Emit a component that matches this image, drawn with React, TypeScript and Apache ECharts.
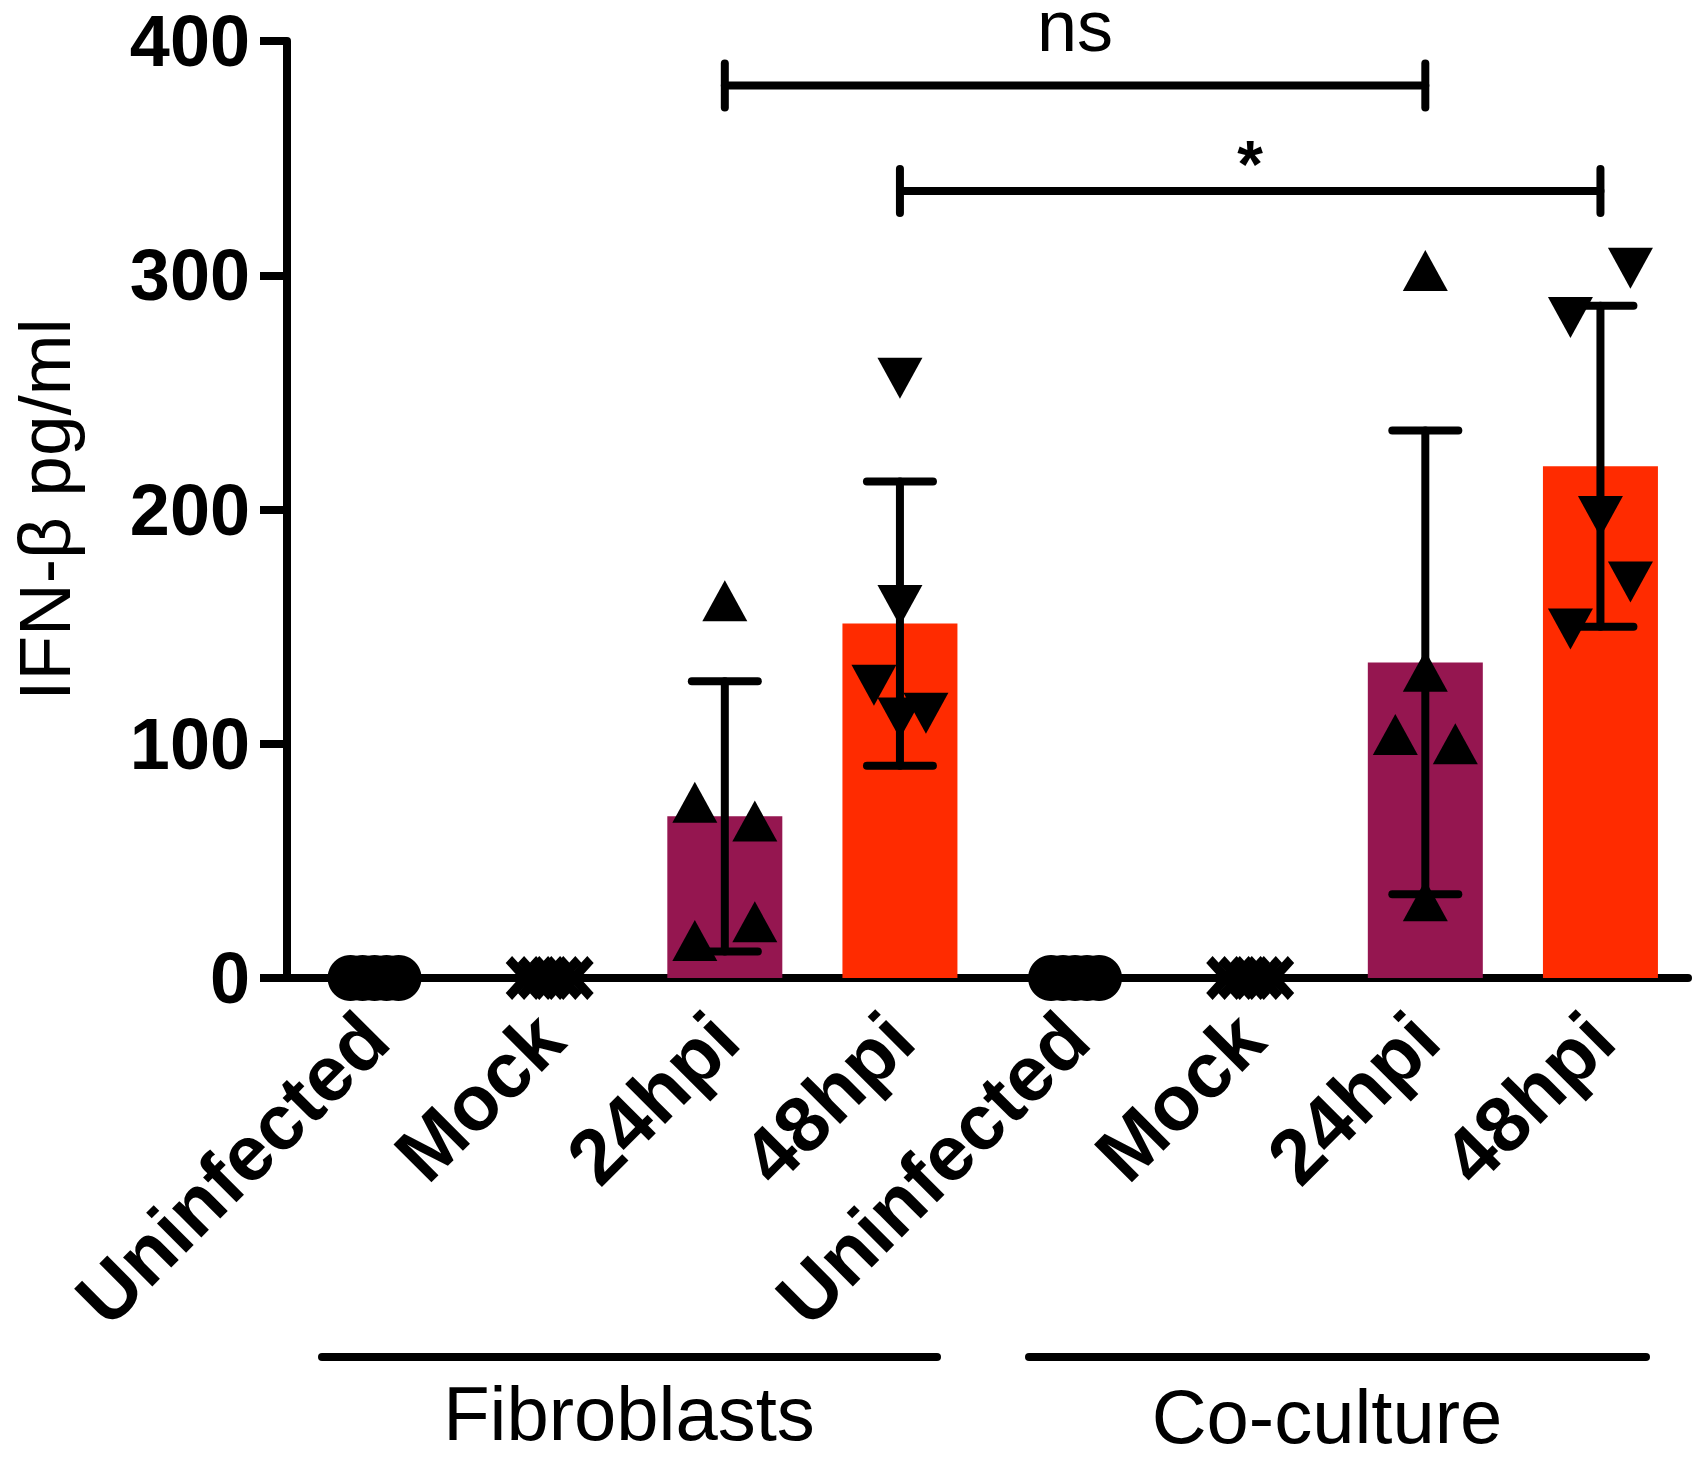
import React, { useEffect, useRef } from 'react';
import * as echarts from 'echarts';

// ---------- data ----------
const categories = ['Uninfected', 'Mock', '24hpi', '48hpi', 'Uninfected', 'Mock', '24hpi', '48hpi'];
const yTicks = { min: 0, max: 400, interval: 100 };
const groupLabels = ['Fibroblasts', 'Co-culture'];

const barMeans = [0, 0, 69, 151.3, 0, 0, 134.7, 218.5];
const barSD = [0, 0, 57.7, 60.7, 0, 0, 99, 68.5];

const uninfectedCats = [0, 4];
const uninfectedValues = [0, 0, 0, 0, 0];
const mockCats = [1, 5];
const mockValues = [0, 0, 0, 0, 0];
const fib24Values = [161, 75, 67, 24, 16];
const fib48Values = [256, 159, 125, 111, 113];
const co24Values = [302, 131, 104, 100, 33];
const co48Values = [303, 282, 197, 169, 149];

const sigPairs = [[2, 6], [3, 7]];
const sigLevels = [381, 336];
const sigLabels = ['ns', '*'];

// ---------- layout / style ----------
const FONT = "'Liberation Sans', Arial, Helvetica, sans-serif";
const LW = 8;
const zeroJitter = [-24, -12, 0, 12, 24];
const fib24Jitter = [0, -30, 30, 30, -30];
const fib48Jitter = [0, 0, -26, 0, 26];
const co24Jitter = [0, 0, -30, 30, 0];
const co48Jitter = [30, -30, 0, 30, -30];
const barColors = ['#000', '#000', '#951650', '#FF2B00', '#000', '#000', '#951650', '#FF2B00'];
const sigTextOffset = [-60, -27];
const sigTextStyle = [
  { fontSize: 72, fontWeight: 'normal' },
  { fontSize: 66, fontWeight: 'bold' },
];

const CROSS =
  'path://M0,1.6 L1.6,0 L5,3.4 L8.4,0 L10,1.6 L6.6,5 L10,8.4 L8.4,10 L5,6.6 L1.6,10 L0,8.4 L3.4,5 Z';

function pts(cat: number, values: number[], jitter: number[]) {
  return values.map((v, i) => ({ value: [cat, v], symbolOffset: [jitter[i], 0] }));
}

export default function App() {
  const ref = useRef<HTMLDivElement>(null);

  useEffect(() => {
    if (!ref.current) return;
    const chart = echarts.init(ref.current, undefined, { renderer: 'svg' });

    const lineStyle = { stroke: '#000', lineWidth: LW, lineCap: 'round' };
    const markStyle = { color: '#000', opacity: 1 };

    const option: any = {
      animation: false,
      backgroundColor: '#fff',
      grid: { left: 285, top: 41, width: 1403, height: 937, containLabel: false },
      xAxis: {
        type: 'category',
        data: categories,
        axisLine: { show: true, lineStyle: { color: '#000', width: LW } },
        axisTick: { show: false },
        axisLabel: {
          interval: 0,
          rotate: 45,
          margin: 48,
          color: '#000',
          fontFamily: FONT,
          fontWeight: 'bold',
          fontSize: 78,
        },
        splitLine: { show: false },
      },
      yAxis: {
        type: 'value',
        min: yTicks.min,
        max: yTicks.max,
        interval: yTicks.interval,
        name: 'IFN-β pg/ml',
        nameLocation: 'middle',
        nameGap: 206,
        nameTextStyle: { color: '#000', fontFamily: FONT, fontSize: 73 },
        axisLine: { show: true, lineStyle: { color: '#000', width: LW } },
        axisTick: { show: true, length: 27, lineStyle: { color: '#000', width: LW } },
        axisLabel: {
          margin: 37,
          color: '#000',
          fontFamily: FONT,
          fontWeight: 'bold',
          fontSize: 72,
        },
        splitLine: { show: false },
      },
      series: [
        {
          type: 'bar',
          barWidth: 115,
          z: 2,
          data: barMeans.map((v, i) => ({ value: v, itemStyle: { color: barColors[i] } })),
        },
        {
          type: 'scatter',
          z: 4,
          symbol: 'circle',
          symbolSize: 46,
          itemStyle: markStyle,
          data: uninfectedCats.flatMap((c) => pts(c, uninfectedValues, zeroJitter)),
        },
        {
          type: 'scatter',
          z: 4,
          symbol: CROSS,
          symbolSize: [40, 44],
          itemStyle: markStyle,
          data: mockCats.flatMap((c) => pts(c, mockValues, zeroJitter)),
        },
        {
          type: 'scatter',
          z: 4,
          symbol: 'triangle',
          symbolSize: [45, 41],
          itemStyle: markStyle,
          data: [...pts(2, fib24Values, fib24Jitter), ...pts(6, co24Values, co24Jitter)],
        },
        {
          type: 'scatter',
          z: 4,
          symbol: 'triangle',
          symbolRotate: 180,
          symbolSize: [45, 41],
          itemStyle: markStyle,
          data: [...pts(3, fib48Values, fib48Jitter), ...pts(7, co48Values, co48Jitter)],
        },
        {
          type: 'custom',
          z: 5,
          clip: false,
          encode: { x: 0, y: 1 },
          data: categories.map((_, i) => [i, barMeans[i], barSD[i]]),
          renderItem: (params: any, api: any) => {
            const x = api.value(0);
            const m = api.value(1);
            const s = api.value(2);
            if (!s) return null;
            const top = api.coord([x, m + s]);
            const bot = api.coord([x, m - s]);
            const hw = 33;
            return {
              type: 'group',
              children: [
                { type: 'line', shape: { x1: top[0], y1: top[1], x2: bot[0], y2: bot[1] }, style: lineStyle },
                { type: 'line', shape: { x1: top[0] - hw, y1: top[1], x2: top[0] + hw, y2: top[1] }, style: lineStyle },
                { type: 'line', shape: { x1: bot[0] - hw, y1: bot[1], x2: bot[0] + hw, y2: bot[1] }, style: lineStyle },
              ],
            };
          },
        },
        {
          type: 'custom',
          z: 5,
          clip: false,
          encode: { x: 0, y: 2 },
          data: sigPairs.map((p, i) => [p[0], p[1], sigLevels[i]]),
          renderItem: (params: any, api: any) => {
            const i = params.dataIndex;
            const a = api.coord([api.value(0), api.value(2)]);
            const b = api.coord([api.value(1), api.value(2)]);
            const cap = 22;
            return {
              type: 'group',
              children: [
                { type: 'line', shape: { x1: a[0], y1: a[1], x2: b[0], y2: b[1] }, style: lineStyle },
                { type: 'line', shape: { x1: a[0], y1: a[1] - cap, x2: a[0], y2: a[1] + cap }, style: lineStyle },
                { type: 'line', shape: { x1: b[0], y1: b[1] - cap, x2: b[0], y2: b[1] + cap }, style: lineStyle },
                {
                  type: 'text',
                  style: {
                    text: sigLabels[i],
                    x: (a[0] + b[0]) / 2,
                    y: a[1] + sigTextOffset[i],
                    align: 'center',
                    verticalAlign: 'middle',
                    fill: '#000',
                    fontFamily: FONT,
                    fontSize: sigTextStyle[i].fontSize,
                    fontWeight: sigTextStyle[i].fontWeight,
                  },
                },
              ],
            };
          },
        },
      ],
      graphic: [
        {
          type: 'line',
          shape: { x1: 322, y1: 1357, x2: 937, y2: 1357 },
          style: { stroke: '#000', lineWidth: LW, lineCap: 'round' },
        },
        {
          type: 'line',
          shape: { x1: 1029, y1: 1357, x2: 1646, y2: 1357 },
          style: { stroke: '#000', lineWidth: LW, lineCap: 'round' },
        },
        {
          type: 'text',
          x: 629,
          y: 1413,
          style: {
            text: groupLabels[0],
            align: 'center',
            verticalAlign: 'middle',
            fill: '#000',
            fontFamily: FONT,
            fontSize: 76,
          },
        },
        {
          type: 'text',
          x: 1327,
          y: 1416,
          style: {
            text: groupLabels[1],
            align: 'center',
            verticalAlign: 'middle',
            fill: '#000',
            fontFamily: FONT,
            fontSize: 76,
          },
        },
      ],
    };

    chart.setOption(option);
    return () => chart.dispose();
  }, []);

  return (
    <div
      ref={ref}
      style={{ position: 'absolute', left: 0, top: 0, width: 1695, height: 1459, background: '#fff' }}
    />
  );
}
